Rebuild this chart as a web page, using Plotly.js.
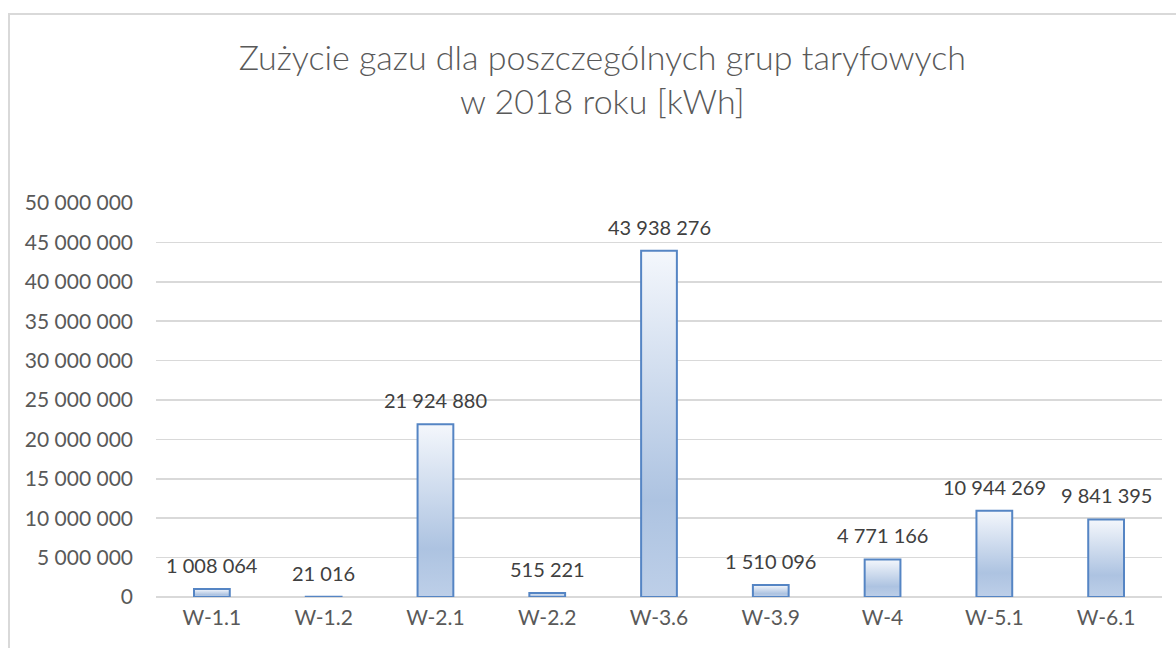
<!DOCTYPE html>
<html>
<head>
<meta charset="utf-8">
<script src="https://cdn.plot.ly/plotly-3.0.1.min.js"></script>
<style>
html,body{margin:0;padding:0;background:#fff;overflow:hidden;}
#frame{position:absolute;left:8px;top:13px;width:1168px;height:635px;border-left:2px solid #d9d9d9;border-top:2px solid #d9d9d9;box-sizing:border-box;}
#chart{position:absolute;left:0;top:0;width:1166px;height:633px;}
</style>
</head>
<body>
<div id="frame"><div id="chart"></div></div>
<script>
const categories = ["W-1.1","W-1.2","W-2.1","W-2.2","W-3.6","W-3.9","W-4","W-5.1","W-6.1"];
const consumption = [1008064, 21016, 21924880, 515221, 43938276, 1510096, 4771166, 10944269, 9841395];
const yTicks = [0,5000000,10000000,15000000,20000000,25000000,30000000,35000000,40000000,45000000,50000000];
const chartTitle = "Zużycie gazu dla poszczególnych grup taryfowych<br>w 2018 roku [kWh]";

const FONT = "Lato, 'Open Sans', sans-serif";

function fmt(v) {
  return String(v).replace(/\B(?=(\d{3})+(?!\d))/g, " ");
}

const trace = {
  type: "bar",
  x: categories,
  y: consumption,
  width: 0.32,
  marker: {color: "#c5d5ea", line: {color: "#5585c4", width: 2}},
  cliponaxis: false,
  hoverinfo: "skip"
};

const labels = categories.map(function(c, i){
  return {
    x: c, y: consumption[i], xref: "x", yref: "y",
    text: fmt(consumption[i]),
    showarrow: false,
    yanchor: "bottom", xanchor: "center",
    yshift: 10,
    font: {family: FONT, size: 20, color: "#404040"}
  };
});

const layout = {
  width: 1166, height: 633,
  margin: {l: 146, r: 14, t: 188, b: 51},
  paper_bgcolor: "#ffffff",
  plot_bgcolor: "#ffffff",
  separators: ". ",
  showlegend: false,
  annotations: labels,
  title: {
    text: chartTitle,
    font: {family: FONT, size: 34, color: "#595959", weight: 300},
    x: 0.508, xref: "container", xanchor: "center",
    y: 0.913, yref: "container", yanchor: "top"
  },
  xaxis: {
    type: "category",
    showgrid: false,
    zeroline: false,
    showline: false,
    ticks: "",
    tickfont: {family: FONT, size: 21, color: "#595959"},
    ticklabelstandoff: 6
  },
  yaxis: {
    range: [0, 50000000],
    tickvals: yTicks,
    tickformat: ",d",
    showgrid: true,
    gridcolor: "#d9d9d9",
    gridwidth: 1.5,
    zeroline: true,
    zerolinecolor: "#d9d9d9",
    zerolinewidth: 1.5,
    showline: false,
    ticks: "",
    tickfont: {family: FONT, size: 21, color: "#595959"},
    ticklabelstandoff: 22
  }
};

Plotly.newPlot("chart", [trace], layout, {displayModeBar: false, staticPlot: true}).then(function(gd){
  const svg = gd.querySelector("svg.main-svg");
  const ns = "http://www.w3.org/2000/svg";
  let defs = svg.querySelector("defs");
  if (!defs) { defs = document.createElementNS(ns, "defs"); svg.insertBefore(defs, svg.firstChild); }
  const grad = document.createElementNS(ns, "linearGradient");
  grad.setAttribute("id", "barGrad");
  grad.setAttribute("x1", "0"); grad.setAttribute("y1", "0");
  grad.setAttribute("x2", "0"); grad.setAttribute("y2", "1");
  [["0", "#f4f7fc"], ["0.72", "#adc3e1"], ["1", "#bdcfe8"]].forEach(function(s){
    const st = document.createElementNS(ns, "stop");
    st.setAttribute("offset", s[0]);
    st.setAttribute("stop-color", s[1]);
    grad.appendChild(st);
  });
  defs.appendChild(grad);
  gd.querySelectorAll(".bars .point path").forEach(function(p){
    p.style.fill = "url(#barGrad)";
  });
});
</script>
</body>
</html>
